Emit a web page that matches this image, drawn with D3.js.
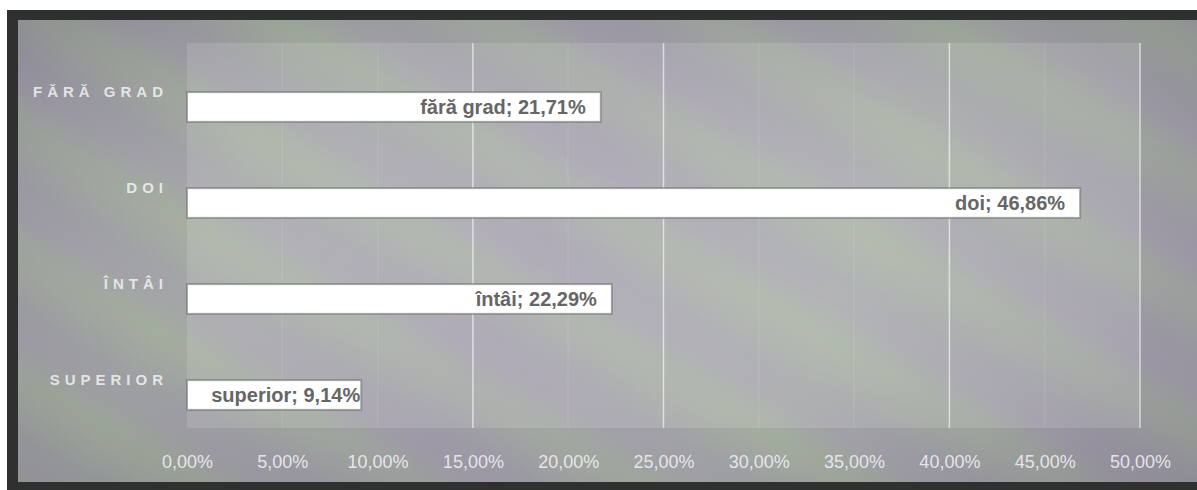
<!DOCTYPE html>
<html><head><meta charset="utf-8">
<script src="https://cdn.jsdelivr.net/npm/d3@7"></script>
<style>html,body{margin:0;padding:0;background:#fff;}svg{display:block;}</style>
</head><body>
<svg id="chart" width="1197" height="490"></svg>
<script>
const categories = ["FĂRĂ GRAD", "DOI", "ÎNTÂI", "SUPERIOR"];
const labelNames = ["fără grad", "doi", "întâi", "superior"];
const values = [21.71, 46.86, 22.29, 9.14];
const tickValues = [0, 5, 10, 15, 20, 25, 30, 35, 40, 45, 50];
const visibleGridTicks = [15, 25, 40, 50];

const fmt = v => v.toFixed(2).replace(".", ",") + "%";

const svg = d3.select("#chart");
const W = 1197, H = 490;
const plot = {left: 187, right: 1140, top: 43, bottom: 428};

const defs = svg.append("defs");
const g1 = defs.append("linearGradient").attr("id", "bgGrad")
  .attr("gradientUnits", "userSpaceOnUse").attr("spreadMethod", "repeat")
  .attr("x1", 0).attr("y1", 0).attr("x2", -55).attr("y2", 95);
[["0%", "#a6aea1"], ["35%", "#a1a0aa"], ["60%", "#a5a0ae"], ["85%", "#a5afa1"], ["100%", "#a6aea1"]]
  .forEach(([o, c]) => g1.append("stop").attr("offset", o).attr("stop-color", c));

const g3 = defs.append("linearGradient").attr("id", "bgGrad2")
  .attr("gradientUnits", "userSpaceOnUse").attr("spreadMethod", "reflect")
  .attr("x1", 0).attr("y1", 0).attr("x2", 260).attr("y2", 140);
g3.append("stop").attr("offset", "0%").attr("stop-color", "#9c93a8").attr("stop-opacity", 0.3);
g3.append("stop").attr("offset", "100%").attr("stop-color", "#aab7a3").attr("stop-opacity", 0.3);

const g2 = defs.append("radialGradient").attr("id", "vign")
  .attr("cx", "50%").attr("cy", "50%").attr("r", "70%");
g2.append("stop").attr("offset", "0%").attr("stop-color", "#ffffff").attr("stop-opacity", 0.05);
g2.append("stop").attr("offset", "100%").attr("stop-color", "#404048").attr("stop-opacity", 0.2);

// dark frame
svg.append("rect").attr("x", 7).attr("y", 10).attr("width", W - 7).attr("height", H - 10).attr("fill", "#2f3130");
// chart area background
const bgArea = {x: 18, y: 20, w: W - 18, h: 462};
["url(#bgGrad)", "url(#bgGrad2)", "url(#vign)"].forEach(f =>
  svg.append("rect").attr("x", bgArea.x).attr("y", bgArea.y).attr("width", bgArea.w).attr("height", bgArea.h).attr("fill", f));
// plot area (lighter)
svg.append("rect").attr("x", plot.left).attr("y", plot.top)
  .attr("width", plot.right - plot.left).attr("height", plot.bottom - plot.top)
  .attr("fill", "#ffffff").attr("fill-opacity", 0.12);

const x = d3.scaleLinear().domain([0, 50]).range([plot.left, plot.right]);
const y = d3.scaleBand().domain(categories).range([59, 443]).paddingInner(0.69).paddingOuter(0.345);

// gridlines
svg.append("g").selectAll("line").data(tickValues.filter(t => t > 0)).join("line")
  .attr("x1", d => x(d)).attr("x2", d => x(d))
  .attr("y1", plot.top).attr("y2", plot.bottom)
  .attr("stroke", "#ffffff")
  .attr("stroke-opacity", d => visibleGridTicks.includes(d) ? 0.6 : 0.08)
  .attr("stroke-width", 1.5);

// bars
svg.append("g").selectAll("rect").data(values).join("rect")
  .attr("x", x(0))
  .attr("y", (d, i) => y(categories[i]))
  .attr("width", d => x(d) - x(0))
  .attr("height", y.bandwidth())
  .attr("fill", "#ffffff")
  .attr("stroke", "#6f6f6f").attr("stroke-opacity", 0.6).attr("stroke-width", 2);

// bar labels
const lbl = svg.append("g").selectAll("text").data(values).join("text")
  .attr("y", (d, i) => y(categories[i]) + y.bandwidth() / 2 + 7)
  .attr("font-family", "'Liberation Sans', Arial, sans-serif")
  .attr("font-weight", "bold").attr("font-size", 20)
  .attr("fill", "#666666")
  .text((d, i) => labelNames[i] + "; " + fmt(d));
lbl.each(function(d) {
  const t = d3.select(this);
  const w = this.getComputedTextLength();
  const end = x(d) - 15;
  if (end - w < x(0) + 12) {
    t.attr("x", x(d) - 1).attr("text-anchor", "end");
  } else {
    t.attr("x", end).attr("text-anchor", "end");
  }
});

// category labels
svg.append("g").selectAll("text").data(categories).join("text")
  .attr("x", 168)
  .attr("y", d => y(d) + 5)
  .attr("text-anchor", "end")
  .attr("font-family", "'Liberation Sans', Arial, sans-serif")
  .attr("font-size", 15)
  .attr("font-weight", "bold")
  .attr("letter-spacing", "5px")
  .attr("fill", "#f2f2f4").attr("fill-opacity", 0.85)
  .text(d => d);

// x axis
const axis = d3.axisBottom(x).tickValues(tickValues).tickFormat(d => fmt(d)).tickSize(0).tickPadding(0);
const ax = svg.append("g").attr("transform", `translate(0,${plot.bottom})`).call(axis);
ax.select(".domain").remove();
ax.selectAll("text")
  .attr("y", 40).attr("dy", 0)
  .attr("font-family", "'Liberation Sans', Arial, sans-serif")
  .attr("font-size", 18)
  .attr("fill", "#f0eef4").attr("fill-opacity", 0.9);
</script>
</body></html>
